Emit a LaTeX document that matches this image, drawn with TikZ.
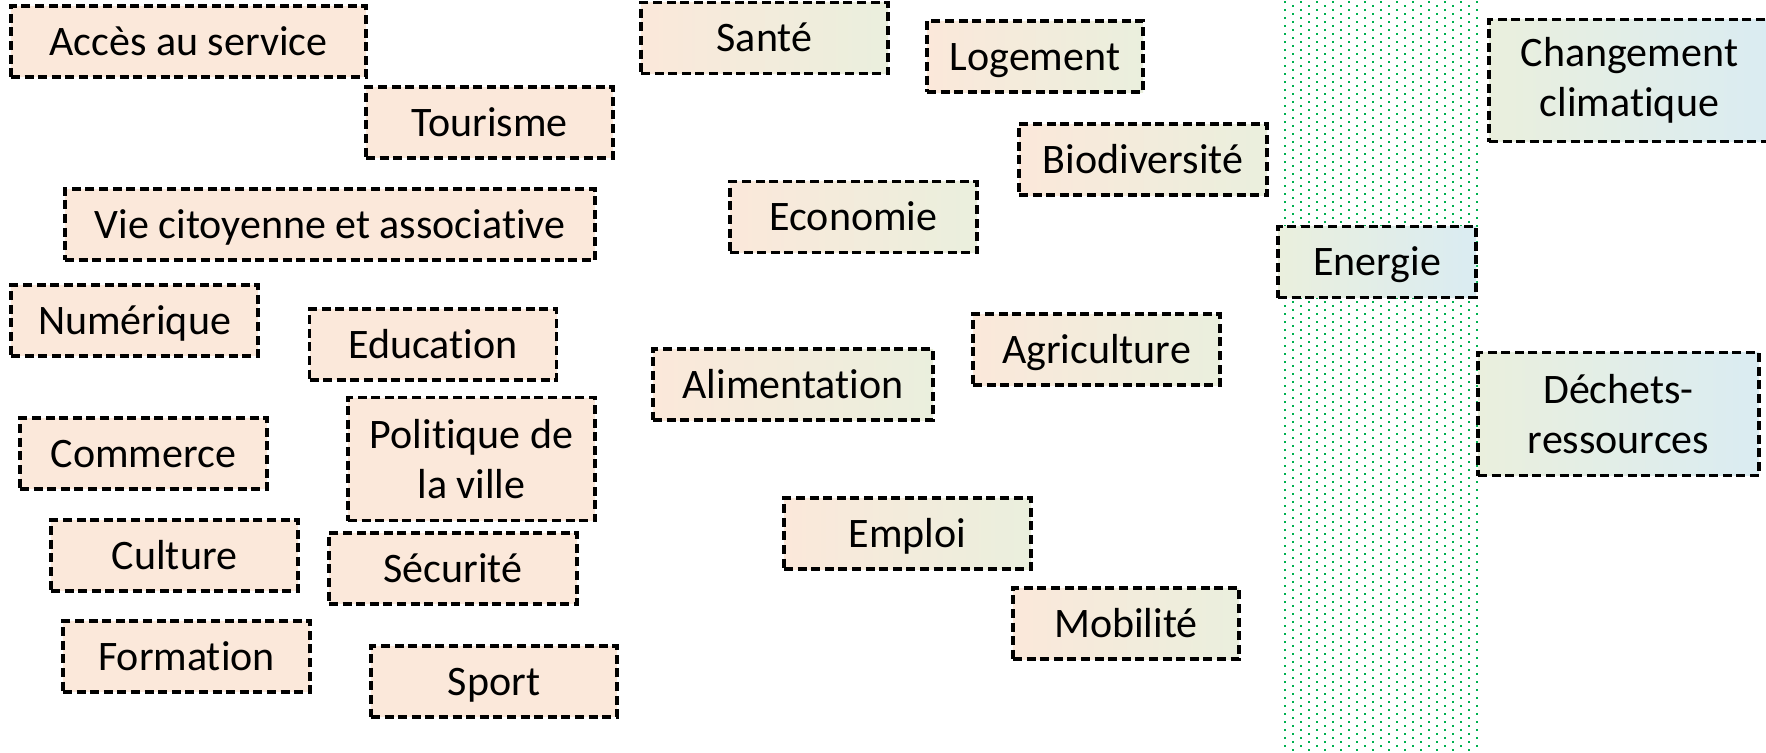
\documentclass[tikz,border=0pt]{standalone}
\usepackage{fontspec}
\setmainfont{Carlito}[Ligatures=NoCommon]
\usepackage{xcolor}
\usepackage{tikz}
\definecolor{peach}{HTML}{FBE8DA}
\definecolor{sage}{HTML}{EAEFDD}
\definecolor{sky}{HTML}{DAECF2}
\definecolor{dotgreen}{HTML}{00B050}
\tikzstyle{th} =[rectangle,draw=black,line width=1.6pt,dash pattern=on 4.5pt off 2.3pt,inner sep=0pt,align=center,font=\fontsize{21}{25}\selectfont,minimum height=35.5pt]
\tikzstyle{one}=[text height=18.7pt,text depth=5.2pt]
\tikzstyle{thp}=[th,fill=peach]
\tikzstyle{thm}=[th,left color=peach,right color=sage]
\tikzstyle{thv}=[th,left color=sage,right color=sky]
\tikzstyle{dots}=[dotgreen,line width=1.1pt,dash pattern=on 1.1pt off 2.9pt]

\begin{document}
\begin{tikzpicture}[x=0.5pt,y=-0.5pt]
	\useasboundingbox (0,0) rectangle (1766,752);
	\clip (0,0) rectangle (1766,752);
	% dotted band
	\foreach \k in {0,...,24} {
	  \pgfmathsetmacro\yo{mod(\k,2)*4+1}
	  \draw[dots] (1285+8*\k,\yo) -- (1285+8*\k,752);
	}
	% social themes
	\node[thp,one,minimum width=177.5pt] (acces)     at (188.5,41.5)  {Accès au service};
	\node[thp,one,minimum width=123.5pt] (tourisme)  at (489.5,122.5) {Tourisme};
	\node[thp,one,minimum width=265pt]   (vie)       at (330,224.5)   {Vie citoyenne et associative};
	\node[thp,one,minimum width=123.5pt] (numerique) at (134.5,320.5) {Numérique};
	\node[thp,one,minimum width=123.5pt] (education) at (433,344.5)   {Education};
	\node[thp,one,minimum width=123.5pt] (commerce)  at (143.5,453.5) {Commerce};
	\node[thp,minimum width=123.5pt,minimum height=61.5pt] (politique) at (471.5,459) {Politique de\\la ville};
	\node[thp,one,minimum width=123.5pt] (culture)   at (174.5,555.5) {Culture};
	\node[thp,one,minimum width=124pt]   (securite)  at (453,568.5)   {Sécurité};
	\node[thp,one,minimum width=123.5pt] (formation) at (186.5,656.5) {Formation};
	\node[thp,one,minimum width=123pt]   (sport)     at (494,681.5)   {Sport};
	% mixed themes
	\node[thm,one,minimum width=123.5pt] (sante)       at (764.5,38)    {Santé};
	\node[thm,one,minimum width=108pt]   (logement)    at (1035,56.5)   {Logement};
	\node[thm,one,minimum width=124pt]   (biodiv)      at (1143,159.5)  {Biodiversité};
	\node[thm,one,minimum width=123.5pt] (economie)    at (853.5,217)   {Economie};
	\node[thm,one,minimum width=123.5pt] (agriculture) at (1096.5,349.5) {Agriculture};
	\node[thm,one,minimum width=140pt]   (alimentation) at (793,384.5)  {Alimentation};
	\node[thm,one,minimum width=123.5pt] (emploi)      at (907.5,533.5) {Emploi};
	\node[thm,one,minimum width=113pt]   (mobilite)    at (1126,623.5)  {Mobilité};
	% environmental themes
	\node[thv,one,minimum width=99pt] (energie) at (1377,262) {Energie};
	\node[thv,minimum width=140.5pt,minimum height=61pt]   (climat)  at (1629.5,80.5)  {Changement\\climatique};
	\node[thv,minimum width=140.5pt,minimum height=61.5pt] (dechets) at (1618.5,414)   {Déchets-\\ressources};
\end{tikzpicture}
\end{document}
